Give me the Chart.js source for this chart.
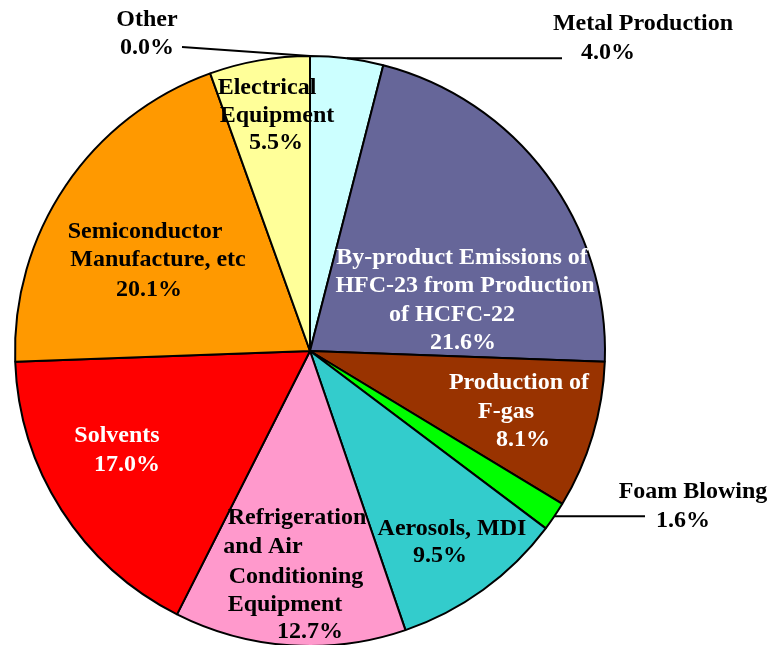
<!DOCTYPE html>
<html>
<head>
<meta charset="utf-8">
<script src="https://cdn.jsdelivr.net/npm/chart.js@4"></script>
<style>
  body { margin: 0; background: #fff; overflow: hidden; }
  #wrap { width: 770px; height: 645px; overflow: hidden; }
</style>
</head>
<body>
<div id="wrap"><canvas id="pie" width="770" height="660"></canvas></div>
<script>
const sources = ["Metal Production", "By-product Emissions of HFC-23 from Production of HCFC-22",
  "Production of F-gas", "Foam Blowing", "Aerosols, MDI",
  "Refrigeration and Air Conditioning Equipment", "Solvents",
  "Semiconductor Manufacture, etc", "Electrical Equipment", "Other"];
const shares = [4.0, 21.6, 8.1, 1.6, 9.5, 12.7, 17.0, 20.1, 5.5, 0.0];
const sliceColors = ["#ccffff", "#666699", "#993300", "#00ff00", "#33cccc",
  "#ff99cc", "#ff0000", "#ff9900", "#ffff99", "#ffffff"];

// label text lines, per-line [dx, dy] from the pie centre, text colour
const labelLines = [
  [["Metal Production", 333, -327], ["4.0%", 298, -298]],
  [["By-product Emissions of", 152, -93], ["HFC-23 from Production", 155, -65], ["of HCFC-22", 142, -36], ["21.6%", 153, -8]],
  [["Production of", 209, 32], ["F-gas", 196, 61], ["8.1%", 213, 89]],
  [["Foam Blowing", 383, 141], ["1.6%", 373, 170]],
  [["Aerosols, MDI", 142, 178], ["9.5%", 130, 205]],
  [["Refrigeration", -13, 167], ["and Air", -47, 196], ["Conditioning", -14, 226], ["Equipment", -25, 254], ["12.7%", 0, 281]],
  [["Solvents", -193, 85], ["17.0%", -183, 114]],
  [["Semiconductor", -165, -119], ["Manufacture, etc", -152, -91], ["20.1%", -161, -61]],
  [["Electrical", -43, -263], ["Equipment", -33, -235], ["5.5%", -34, -208]],
  [["Other", -163, -331], ["0.0%", -163, -303]]
];
const labelColors = ["#000", "#fff", "#fff", "#000", "#000", "#000", "#fff", "#000", "#000", "#000"];
// leader lines: slice index -> end point offset from pie centre
const leaders = { 0: [252, null], 3: [335, null], 9: [-128, -304] };

const labelPlugin = {
  id: "sliceLabels",
  afterDatasetsDraw(chart) {
    const ctx = chart.ctx;
    const arcs = chart.getDatasetMeta(0).data;
    const cx = arcs[0].x, cy = arcs[0].y;
    ctx.save();
    ctx.strokeStyle = "#000";
    ctx.lineWidth = 2;
    Object.keys(leaders).forEach(k => {
      const a = arcs[k];
      const mid = (a.startAngle + a.endAngle) / 2;
      const sx = cx + a.outerRadius * Math.cos(mid);
      const sy = cy + a.outerRadius * Math.sin(mid);
      const [ex, ey] = leaders[k];
      ctx.beginPath();
      ctx.moveTo(sx, sy);
      ctx.lineTo(cx + ex, ey === null ? sy : cy + ey);
      ctx.stroke();
    });
    ctx.font = "bold 24px 'Liberation Serif', 'Times New Roman', serif";
    ctx.textAlign = "center";
    ctx.textBaseline = "middle";
    labelLines.forEach((lines, i) => {
      ctx.fillStyle = labelColors[i];
      lines.forEach(([t, dx, dy]) => ctx.fillText(t, cx + dx, cy + dy));
    });
    ctx.restore();
  }
};

new Chart(document.getElementById("pie"), {
  type: "pie",
  data: {
    labels: sources,
    datasets: [{
      data: shares,
      backgroundColor: sliceColors,
      borderColor: "#000",
      borderWidth: 2
    }]
  },
  options: {
    responsive: false,
    animation: false,
    layout: { padding: { left: 14, right: 164, top: 55, bottom: 13 } },
    plugins: { legend: { display: false }, tooltip: { enabled: false } }
  },
  plugins: [labelPlugin]
});
</script>
</body>
</html>
